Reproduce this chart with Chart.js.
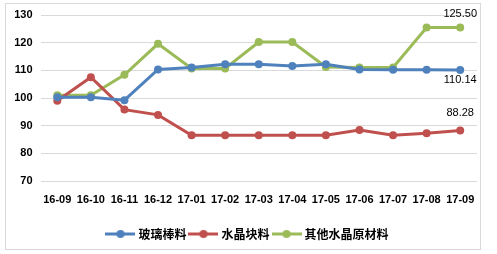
<!DOCTYPE html>
<html>
<head>
<meta charset="utf-8">
<script src="https://cdn.jsdelivr.net/npm/chart.js@4.4.0/dist/chart.umd.min.js"></script>
<style>
  html, body { margin: 0; padding: 0; background: #fff; }
  #frame { position: absolute; left: 5px; top: 3px; width: 474px; height: 245px; border: 1px solid #D9D9D9; }
  #wrap { position: absolute; left: 0; top: 0; width: 497px; height: 254px; }
</style>
</head>
<body>
<div id="frame"></div>
<div id="wrap"><canvas id="chart" width="497" height="254"></canvas></div>
<script>
// 月份
const months = ['16-09', '16-10', '16-11', '16-12', '17-01', '17-02', '17-03', '17-04', '17-05', '17-06', '17-07', '17-08', '17-09'];
const seriesNames = ['玻璃棒料', '水晶块料', '其他水晶原材料'];
const glassRod = [100.3, 100.3, 99.2, 110.3, 111.0, 112.2, 112.2, 111.6, 112.2, 110.3, 110.2, 110.2, 110.14];
const crystalBlock = [99.0, 107.5, 95.8, 93.9, 86.5, 86.5, 86.5, 86.5, 86.5, 88.4, 86.5, 87.3, 88.28];
const otherCrystal = [101.0, 101.0, 108.4, 119.6, 110.7, 110.7, 120.2, 120.2, 111.2, 111.0, 111.0, 125.5, 125.5];
const yTicks = [70, 80, 90, 100, 110, 120, 130];

const colors = ['#4F81BD', '#C0504D', '#9BBB59'];
const labelOffsets = [10, -17, -13]; // 末端数值标签的上下偏移

function legendIcon(color) {
    const c = document.createElement('canvas');
    c.width = 30; c.height = 10;
    const g = c.getContext('2d');
    g.strokeStyle = color; g.lineWidth = 3;
    g.beginPath(); g.moveTo(0, 5); g.lineTo(30, 5); g.stroke();
    g.fillStyle = color;
    g.beginPath(); g.arc(15, 5, 4, 0, Math.PI * 2); g.fill();
    return c;
}

const lastValueLabels = {
    id: 'lastValueLabels',
    afterDatasetsDraw(chart) {
        const ctx = chart.ctx;
        ctx.save();
        ctx.font = '11px "Liberation Sans", Arial, sans-serif';
        ctx.fillStyle = '#000';
        ctx.textAlign = 'center';
        ctx.textBaseline = 'middle';
        chart.data.datasets.forEach(function(ds, i) {
            const meta = chart.getDatasetMeta(i);
            const pt = meta.data[meta.data.length - 1];
            const v = ds.data[ds.data.length - 1];
            ctx.fillText(v.toFixed(2), pt.x, pt.y + labelOffsets[i]);
        });
        ctx.restore();
    }
};

const datasetsData = [glassRod, crystalBlock, otherCrystal];

new Chart(document.getElementById('chart'), {
    type: 'line',
    data: {
        labels: months,
        datasets: datasetsData.map(function(d, i) {
            return {
                label: seriesNames[i],
                data: d,
                borderColor: colors[i],
                backgroundColor: colors[i],
                borderWidth: 3,
                pointRadius: 4,
                pointHoverRadius: 4,
                pointBorderWidth: 0,
                pointStyle: 'circle',
                tension: 0
            };
        })
    },
    options: {
        responsive: false,
        animation: false,
        layout: { padding: { top: 15, right: 0, left: 0, bottom: 4 } },
        scales: {
            x: {
                offset: true,
                afterFit: function(scale) { scale.height = 42; scale.paddingRight = 20; },
                grid: { display: false, drawTicks: false },
                border: { display: false },
                ticks: {
                    color: '#000',
                    font: { family: '"Liberation Sans", Arial, sans-serif', size: 11, weight: 'bold' },
                    padding: 12,
                    maxRotation: 0,
                    autoSkip: false
                }
            },
            y: {
                min: 70,
                max: 130,
                afterFit: function(scale) { scale.width = 40.5; },
                afterBuildTicks: function(scale) { scale.ticks = yTicks.map(function(v) { return { value: v }; }); },
                grid: { color: '#D9D9D9', lineWidth: 1, drawTicks: false },
                border: { display: false },
                ticks: {
                    color: '#000',
                    font: { family: '"Liberation Sans", Arial, sans-serif', size: 11, weight: 'bold' },
                    padding: 8
                }
            }
        },
        plugins: {
            legend: {
                position: 'bottom',
                labels: {
                    usePointStyle: true,
                    pointStyleWidth: 24,
                    padding: 5,
                    color: '#000',
                    font: { family: '"Noto Sans CJK SC", sans-serif', size: 12, weight: 'bold' },
                    generateLabels: function(chart) {
                        return chart.data.datasets.map(function(ds, i) {
                            return {
                                text: ds.label,
                                pointStyle: legendIcon(colors[i]),
                                fillStyle: colors[i],
                                strokeStyle: colors[i],
                                lineWidth: 0,
                                hidden: false,
                                datasetIndex: i
                            };
                        });
                    }
                }
            },
            tooltip: { enabled: false }
        }
    },
    plugins: [lastValueLabels]
});
</script>
</body>
</html>
